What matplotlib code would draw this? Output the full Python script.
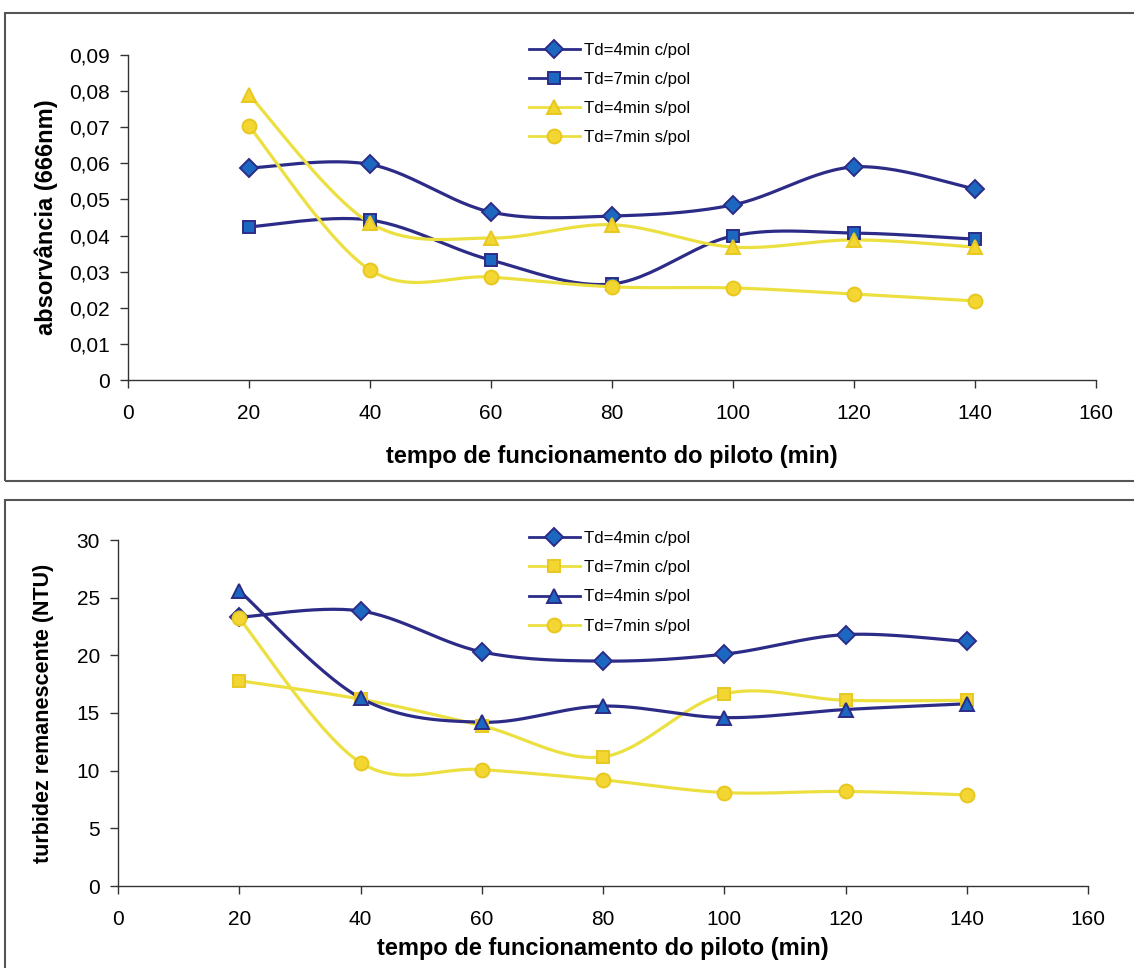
import numpy as np
import matplotlib
matplotlib.use("Agg")
import matplotlib.pyplot as plt
from matplotlib.patches import Rectangle
from matplotlib.ticker import FuncFormatter

plt.rcParams["font.family"] = ["Liberation Sans", "DejaVu Sans"]

# tempo de funcionamento (min)
tempo = [20, 40, 60, 80, 100, 120, 140]

# absorvancia (666nm)
abs_4_cpol = [0.0587, 0.0597, 0.0465, 0.0454, 0.0485, 0.0590, 0.0529]
abs_7_cpol = [0.0424, 0.0443, 0.0332, 0.0266, 0.0399, 0.0407, 0.0390]
abs_4_spol = [0.0790, 0.0435, 0.0393, 0.0430, 0.0368, 0.0388, 0.0368]
abs_7_spol = [0.0703, 0.0305, 0.0285, 0.0258, 0.0255, 0.0238, 0.0219]

# turbidez remanescente (NTU)
turb_4_cpol = [23.3, 23.85, 20.3, 19.5, 20.1, 21.8, 21.2]
turb_7_cpol = [17.8, 16.2, 13.9, 11.2, 16.65, 16.1, 16.1]
turb_4_spol = [25.6, 16.3, 14.2, 15.6, 14.6, 15.3, 15.8]
turb_7_spol = [23.2, 10.7, 10.1, 9.2, 8.1, 8.2, 7.9]

labels = ["Td=4min c/pol", "Td=7min c/pol", "Td=4min s/pol", "Td=7min s/pol"]
xlabel = "tempo de funcionamento do piloto (min)"

NAVY = "#2c2c88"
BLUE = "#1c68c0"
YEL_LINE = "#ece040"
YEL_FACE = "#f3d632"


def smooth(x, y, n=30):
    """Excel-like smoothed line: Catmull-Rom cubic Bezier through the points."""
    p = np.column_stack([x, y]).astype(float)
    p = np.vstack([p[0], p, p[-1]])
    out = []
    t = np.linspace(0, 1, n)[:, None]
    for i in range(1, len(p) - 2):
        p0, p1, p2, p3 = p[i - 1], p[i], p[i + 1], p[i + 2]
        c1 = p1 + (p2 - p0) / 6
        c2 = p2 - (p3 - p1) / 6
        seg = ((1 - t) ** 3) * p1 + 3 * ((1 - t) ** 2) * t * c1 \
            + 3 * (1 - t) * t ** 2 * c2 + t ** 3 * p2
        out.append(seg)
    out = np.vstack(out)
    return out[:, 0], out[:, 1]


def draw_series(ax, y, label, marker, navy, ms):
    line_c = NAVY if navy else YEL_LINE
    face = BLUE if navy else YEL_FACE
    edge = NAVY if navy else "#e8c820"
    sx, sy = smooth(tempo, y)
    ax.plot(sx, sy, color=line_c, lw=2.3, solid_capstyle="round", zorder=2)
    ax.plot(tempo, y, linestyle="none", marker=marker, ms=ms,
            markerfacecolor=face, markeredgecolor=edge, markeredgewidth=1.4,
            zorder=3)
    # legend proxy
    ax.plot([], [], color=line_c, lw=2.0, marker=marker, ms=ms,
            markerfacecolor=face, markeredgecolor=edge, markeredgewidth=1.4,
            label=label)


def style_axes(ax, ylim, yticks, fmt):
    ax.set_xlim(0, 160)
    ax.set_ylim(*ylim)
    ax.set_xticks(range(0, 161, 20))
    ax.set_yticks(yticks)
    ax.yaxis.set_major_formatter(FuncFormatter(fmt))
    for s in ["top", "right"]:
        ax.spines[s].set_visible(False)
    for s in ["left", "bottom"]:
        ax.spines[s].set_color("#333333")
        ax.spines[s].set_linewidth(1.0)
    ax.tick_params(direction="out", length=6, width=1.0, color="#333333",
                   labelsize=15)
    ax.tick_params(axis="x", pad=11)
    ax.tick_params(axis="y", pad=7)
    ax.patch.set_alpha(0)


fig = plt.figure(figsize=(11.34, 9.68), dpi=100)
W, H = 1134, 968

# frames around each chart
fig.patches.append(Rectangle((5 / W, 1 - 481 / H), 1.2, 468 / H,
                             transform=fig.transFigure, fill=False,
                             edgecolor="#555555", lw=1.5, zorder=0))
fig.patches.append(Rectangle((5 / W, -0.1), 1.2, 0.1 + 468 / H,
                             transform=fig.transFigure, fill=False,
                             edgecolor="#555555", lw=1.5, zorder=0))

leg_kw = dict(loc="upper left", frameon=False, fontsize=12.1,
              handlelength=3.0, labelspacing=0.85, handletextpad=0.25)

# top: absorvancia
ax1 = fig.add_axes([128 / W, 1 - 380 / H, 968 / W, 325 / H])
draw_series(ax1, abs_4_cpol, labels[0], "D", True, 9)
draw_series(ax1, abs_7_cpol, labels[1], "s", True, 9)
draw_series(ax1, abs_4_spol, labels[2], "^", False, 10)
draw_series(ax1, abs_7_spol, labels[3], "o", False, 10)
style_axes(ax1, (0, 0.09), np.arange(0, 0.091, 0.01),
           lambda v, _: "0" if abs(v) < 1e-9 else f"{v:.2f}".replace(".", ","))
ax1.set_ylabel("absorvância (666nm)", fontsize=17, fontweight="bold", labelpad=8)
ax1.set_xlabel(xlabel, fontsize=17, fontweight="bold", labelpad=16)
ax1.legend(bbox_to_anchor=(386 / 968, 1.085), **leg_kw)

# bottom: turbidez
ax2 = fig.add_axes([118 / W, 1 - 886 / H, 970 / W, 346 / H])
draw_series(ax2, turb_4_cpol, labels[0], "D", True, 9)
draw_series(ax2, turb_7_cpol, labels[1], "s", False, 9)
draw_series(ax2, turb_4_spol, labels[2], "^", True, 10)
draw_series(ax2, turb_7_spol, labels[3], "o", False, 10)
style_axes(ax2, (0, 30), range(0, 31, 5), lambda v, _: f"{v:g}")
ax2.set_ylabel("turbidez remanescente (NTU)", fontsize=15.5, fontweight="bold",
               labelpad=16)
ax2.set_xlabel(xlabel, fontsize=17, fontweight="bold", labelpad=6)
ax2.legend(bbox_to_anchor=(396 / 970, 1.07), **leg_kw)

fig.savefig("out.png", dpi=100)
